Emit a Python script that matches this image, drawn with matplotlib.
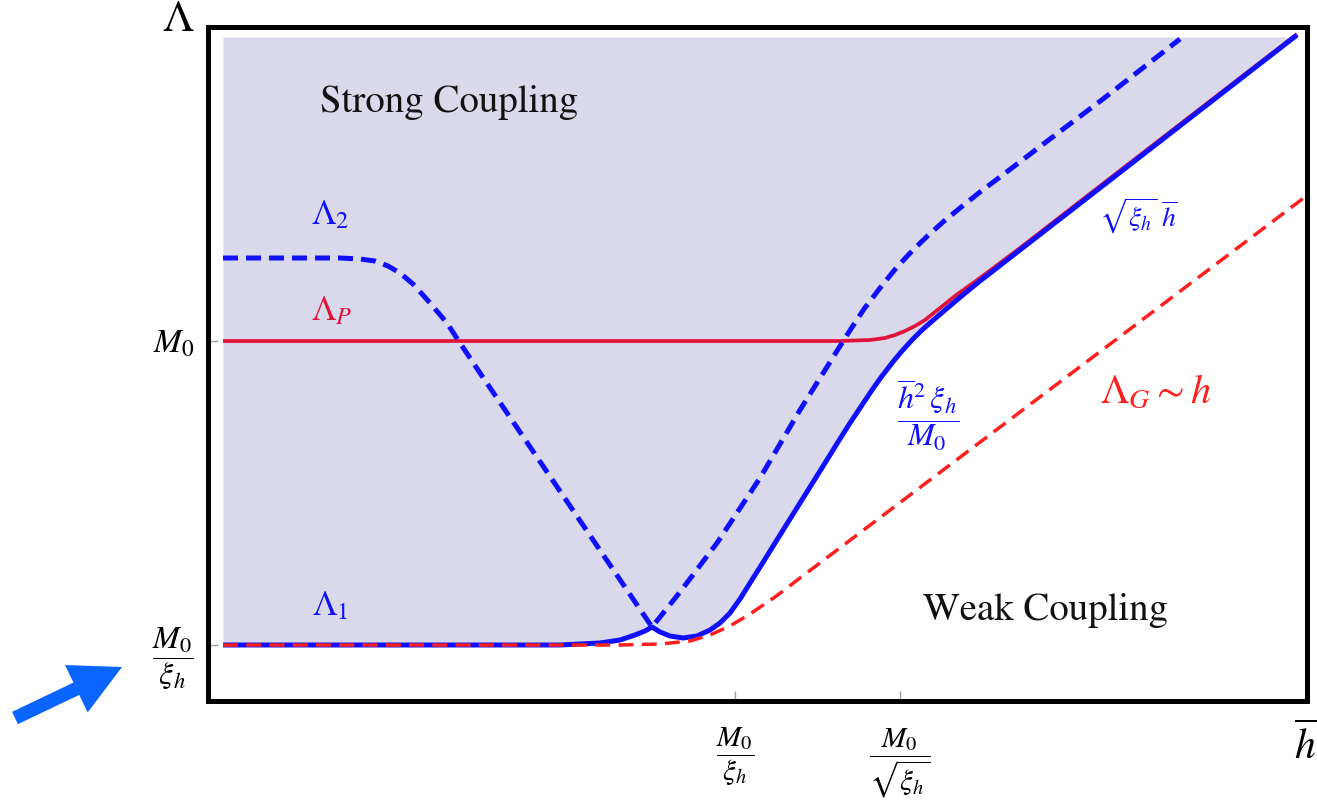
import matplotlib
matplotlib.use("Agg")
import matplotlib.pyplot as plt

plt.rcParams['mathtext.fontset'] = 'stix'
plt.rcParams['font.family'] = ['STIXGeneral', 'DejaVu Sans']

# ---- data (schematic log-log units) ----
lam1_x = [0.15, 3.52, 3.92, 4.12, 4.27, 4.37, 4.44, 4.52, 4.62, 4.75, 4.89, 5.02, 5.12, 5.22,
          5.32, 5.42, 5.54, 5.67, 5.92, 6.17, 6.30, 6.42, 6.54, 6.64, 6.74, 6.84, 6.94, 7.04,
          7.14, 7.26, 7.40, 7.56, 7.72, 10.89]
lam1_y = [0.56, 0.56, 0.58, 0.61, 0.66, 0.70, 0.74, 0.69, 0.65, 0.63, 0.65, 0.71, 0.78, 0.88,
          1.02, 1.18, 1.37, 1.58, 1.98, 2.38, 2.59, 2.78, 2.96, 3.11, 3.25, 3.38, 3.50, 3.61,
          3.71, 3.815, 3.935, 4.07, 4.20, 6.66]

lam2_x = [0.15, 1.32, 1.52, 1.67, 1.80, 1.92, 2.05, 2.14, 2.22, 2.39, 2.50, 2.72, 4.44,
          4.52, 4.72, 5.09, 5.52, 5.92, 6.39, 6.56, 6.72, 6.89, 7.05, 7.20, 7.35, 7.52,
          7.72, 7.92, 8.42, 8.95, 9.72]
lam2_y = [4.43, 4.43, 4.42, 4.40, 4.35, 4.28, 4.17, 4.07, 3.98, 3.78, 3.61, 3.28, 0.74,
          0.84, 1.09, 1.58, 2.23, 2.91, 3.66, 3.92, 4.13, 4.34, 4.51, 4.655, 4.79, 4.93,
          5.09, 5.24, 5.62, 6.02, 6.62]

lamP_x = [0.15, 6.32, 6.62, 6.77, 6.87, 6.97, 7.07, 7.17, 7.27, 7.47, 7.72, 8.12, 8.92, 10.89]
lamP_y = [3.60, 3.60, 3.61, 3.63, 3.66, 3.70, 3.75, 3.81, 3.89, 4.05, 4.23, 4.53, 5.15, 6.67]

lamG_x = [0.15, 4.12, 4.52, 4.82, 5.02, 5.22, 5.42, 5.67, 5.92, 10.97]
lamG_y = [0.56, 0.56, 0.57, 0.60, 0.66, 0.75, 0.87, 1.04, 1.23, 5.04]

shade_top = 6.64

xtick_vals = [5.27, 6.92]
xtick_labels = [r'$\dfrac{M_0}{\xi_h}$', r'$\dfrac{M_0}{\sqrt{\xi_h}}$']
ytick_vals = [0.56, 3.60]
ytick_labels = [r'$\dfrac{M_0}{\xi_h}$', r'$M_0$']

BLUE = '#1010ff'
RED_P = '#e0143a'
RED_G = '#ff1f1f'

fig = plt.figure(figsize=(13.17, 8.0), dpi=100)
ax = fig.add_axes([208/1317, 1-701/800, (1307-208)/1317, (701-27)/800])
ax.set_xlim(0, 10.99)
ax.set_ylim(0, 6.74)

ax.fill_between(lam1_x, lam1_y, shade_top, color='#d9d9eb', lw=0, zorder=1)
ax.plot(lamP_x, lamP_y, color=RED_P, lw=2.7, zorder=2, solid_capstyle='butt')
ax.plot(lam1_x, lam1_y, color=BLUE, lw=3.6, zorder=3, solid_capstyle='butt')
ax.plot(lam2_x, lam2_y, color=BLUE, lw=3.6, zorder=4, dashes=(3.0, 1.6))
ax.plot(lamG_x, lamG_y, color=RED_G, lw=2.5, zorder=5, dashes=(4.3, 2.4))

for s in ax.spines.values():
    s.set_linewidth(3.6)
    s.set_color('black')
    s.set_zorder(10)

ax.set_xticks(xtick_vals, xtick_labels, fontsize=21)
ax.set_yticks(ytick_vals, ytick_labels, fontsize=23)
for lab in ax.get_yticklabels():
    if lab.get_text() == r'$M_0$':
        lab.set_fontsize(24)
ax.tick_params(axis='both', direction='in', length=7, width=1, color='#a0a0a0')
ax.tick_params(axis='x', pad=18)
ax.tick_params(axis='y', pad=10)

txt = dict(ha='center', va='center', clip_on=False)
ax.text(-0.30, 6.80, r'$\Lambda$', fontsize=32, color='black', **txt)
ax.text(10.97, -0.44, r'$\overline{h}$', fontsize=30, color='black', **txt)
ax.text(2.41, 5.98, 'Strong Coupling', fontsize=28, color='#111111', **txt)
ax.text(8.38, 0.91, 'Weak Coupling', fontsize=28, color='#111111', **txt)
ax.text(1.22, 4.85, r'$\Lambda_2$', fontsize=25, color=BLUE, **txt)
ax.text(1.24, 3.89, r'$\Lambda_P$', fontsize=25, color=RED_P, **txt)
ax.text(1.22, 0.94, r'$\Lambda_1$', fontsize=25, color=BLUE, **txt)
ax.text(9.30, 4.85, r'$\sqrt{\xi_h}\ \overline{h}$', fontsize=20, color=BLUE, **txt)
ax.text(7.20, 2.86, r'$\dfrac{\overline{h}^2\,\xi_h}{M_0}$', fontsize=23, color=BLUE, **txt)
ax.text(9.48, 3.08, r'$\Lambda_G \sim h$', fontsize=29, color=RED_G, **txt)

ax.annotate('', xy=(122, 800-667), xytext=(15, 800-718),
            xycoords='figure pixels', textcoords='figure pixels',
            arrowprops=dict(arrowstyle='simple,head_length=2.6,head_width=2.7,tail_width=0.7',
                            mutation_scale=14, color='#0a64ff', shrinkA=0, shrinkB=0, lw=0))

fig.savefig('out.png', dpi=100)
